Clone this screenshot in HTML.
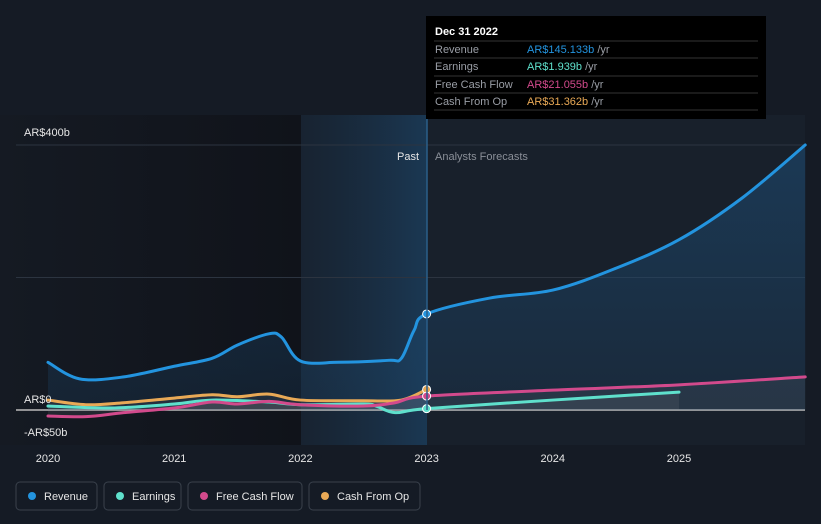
<!DOCTYPE html>
<html><head><meta charset="utf-8"><style>
body{margin:0;background:#151b25;font-family:"Liberation Sans",sans-serif;}
svg{display:block}
</style></head><body>
<svg id="c" width="821" height="524" xmlns="http://www.w3.org/2000/svg">
<defs>
<linearGradient id="hl" x1="0" x2="1" y1="0" y2="0"><stop offset="0" stop-color="#1a2b3d" stop-opacity="0.5"/><stop offset="1" stop-color="#1b3b58" stop-opacity="0.9"/></linearGradient>
<linearGradient id="rf" x1="0" x2="0" y1="0" y2="1"><stop offset="0" stop-color="#1e4e78" stop-opacity="0.55"/><stop offset="1" stop-color="#1e4e78" stop-opacity="0.2"/></linearGradient>
<linearGradient id="dk" x1="0" x2="1" y1="0" y2="0"><stop offset="0" stop-color="#151a23"/><stop offset="1" stop-color="#10131a"/></linearGradient>
</defs>
<rect x="0" y="0" width="821" height="524" fill="#151b25"/>
<rect x="0" y="115" width="301" height="330" fill="url(#dk)"/>
<rect x="301" y="115" width="126" height="330" fill="url(#hl)"/>
<rect x="427" y="115" width="378" height="330" fill="#18202b"/>
<g id="grid"></g>
<g id="areas"></g>
<g id="lines"></g>
<g id="dots"></g>
<line x1="427" y1="20" x2="427" y2="410" stroke="#2b5f8a" stroke-width="1.5"/>
<text x="419" y="160" fill="#e6e6e6" font-size="11" text-anchor="end">Past</text>
<text x="435" y="160" fill="#8a8f98" font-size="11">Analysts Forecasts</text>
<text x="24" y="136" fill="#e6e6e6" font-size="11">AR$400b</text>
<text x="24" y="403" fill="#e6e6e6" font-size="11">AR$0</text>
<text x="24" y="436" fill="#e6e6e6" font-size="11">-AR$50b</text>
<g id="xt"></g>
<g>
<rect x="426" y="16" width="340" height="103" fill="#000"/>
<text x="435" y="35" fill="#fff" font-size="11" font-weight="bold">Dec 31 2022</text>
<g stroke="#333" stroke-width="1"><line x1="434" x2="758" y1="41" y2="41"/><line x1="434" x2="758" y1="58" y2="58"/><line x1="434" x2="758" y1="76" y2="76"/><line x1="434" x2="758" y1="93" y2="93"/><line x1="434" x2="758" y1="110" y2="110"/></g>
<g font-size="11">
<text x="435" y="53" fill="#9a9ea6">Revenue</text><text x="527" y="53" fill="#2394df">AR$145.133b <tspan fill="#9a9ea6">/yr</tspan></text>
<text x="435" y="70" fill="#9a9ea6">Earnings</text><text x="527" y="70" fill="#5fe0cc">AR$1.939b <tspan fill="#9a9ea6">/yr</tspan></text>
<text x="435" y="88" fill="#9a9ea6">Free Cash Flow</text><text x="527" y="88" fill="#d24a8c">AR$21.055b <tspan fill="#9a9ea6">/yr</tspan></text>
<text x="435" y="105" fill="#9a9ea6">Cash From Op</text><text x="527" y="105" fill="#e9a956">AR$31.362b <tspan fill="#9a9ea6">/yr</tspan></text>
</g></g>
<g id="legend"></g>
</svg>
<script>
const revT=[2020,2020.25,2020.6,2021,2021.3,2021.5,2021.75,2021.85,2022,2022.3,2022.7,2022.8,2022.9,2023,2023.5,2024,2024.5,2025,2025.5,2026];
const revV=[72,47,50,66,78,98,115,110,74,72,75,78,120,145,169,181,214,257,320,400];
const earnT=[2020,2020.5,2021,2021.3,2021.75,2022,2022.5,2022.6,2022.75,2023,2024,2025];
const earnV=[6,3,9,15,12,8,9,6,-4,2,15,27];
const fcfT=[2020,2020.3,2020.6,2021,2021.3,2021.5,2021.75,2022,2022.5,2022.75,2023,2024,2025,2026];
const fcfV=[-9,-10,-4,3,12,9,13,8,6,11,21,30,38,50];
const cfoT=[2020,2020.3,2020.6,2021,2021.3,2021.5,2021.75,2022,2022.5,2022.8,2023];
const cfoV=[15,8,11,18,23,20,24,15,14,15,31];
const xTicks=[2020,2021,2022,2023,2024,2025];
const gridVals=[400,200,0];
const X=t=>48+(t-2020)*126.2, Y=v=>410-v*0.6625;
const NS='http://www.w3.org/2000/svg';
function mk(tag,attrs,parent){const e=document.createElementNS(NS,tag);for(const k in attrs)e.setAttribute(k,attrs[k]);document.getElementById(parent).appendChild(e);return e;}
function path(T,V){const p=T.map((t,i)=>[X(t),Y(V[i])]);let d='M'+p[0][0]+','+p[0][1];
for(let i=0;i<p.length-1;i++){const p0=p[Math.max(0,i-1)],p1=p[i],p2=p[i+1],p3=p[Math.min(p.length-1,i+2)];
d+=' C'+(p1[0]+(p2[0]-p0[0])/6)+','+(p1[1]+(p2[1]-p0[1])/6)+' '+(p2[0]-(p3[0]-p1[0])/6)+','+(p2[1]-(p3[1]-p1[1])/6)+' '+p2[0]+','+p2[1];}return d;}
gridVals.forEach(v=>{const l=mk('line',{x1:16,x2:805,y1:Y(v),y2:Y(v),stroke:v===0?'#bbb':'#2c3440','stroke-width':v===0?1.5:1},'grid');

});
const ser=[['revenue',revT,revV,'#2394df'],['cash-from-op',cfoT,cfoV,'#e9a956'],['earnings',earnT,earnV,'#5fe0cc'],['free-cash-flow',fcfT,fcfV,'#d24a8c']];
ser.forEach(([n,T,V,c],i)=>{const d=path(T,V);
const a=mk('path',{d:d+' L'+X(T[T.length-1])+','+Y(0)+' L'+X(T[0])+','+Y(0)+' Z',fill:i===0?'url(#rf)':'rgba(150,150,160,0.12)'},'areas');


const l=mk('path',{d:d,fill:'none',stroke:c,'stroke-width':3,'stroke-linecap':'round'},'lines');


const k=T.indexOf(2023);
if(k>=0){const dot=mk('circle',{cx:X(2023),cy:Y(V[k]),r:4,fill:c,stroke:'#fff','stroke-width':1},'dots');

}});
xTicks.forEach(t=>{const e=mk('text',{x:X(t),y:462,fill:'#e6e6e6','font-size':11,'text-anchor':'middle'},'xt');e.textContent=t;

});
const legNames=['Revenue','Earnings','Free Cash Flow','Cash From Op'];
const legColors=['#2394df','#5fe0cc','#d24a8c','#e9a956'];
const legX=[16,104,188,309],legW=[81,77,114,111];
legNames.forEach((n,i)=>{const g=mk('g',{},'legend');


const r=document.createElementNS(NS,'rect');r.setAttribute('x',legX[i]);r.setAttribute('y',482);r.setAttribute('width',legW[i]);r.setAttribute('height',28);r.setAttribute('rx',4);r.setAttribute('fill','none');r.setAttribute('stroke','#3a414c');g.appendChild(r);
const c=document.createElementNS(NS,'circle');c.setAttribute('cx',legX[i]+16);c.setAttribute('cy',496);c.setAttribute('r',4);c.setAttribute('fill',legColors[i]);g.appendChild(c);
const t=document.createElementNS(NS,'text');t.setAttribute('x',legX[i]+28);t.setAttribute('y',500);t.setAttribute('fill','#e6e6e6');t.setAttribute('font-size',11);t.textContent=n;g.appendChild(t);});
</script>
</body></html>
